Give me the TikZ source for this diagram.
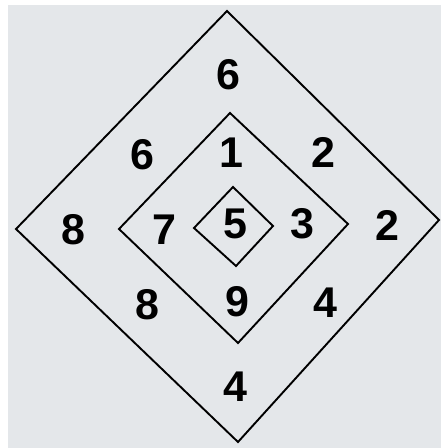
\documentclass[tikz,border=0pt]{standalone}
\usepackage{fontspec}
\setmainfont{Liberation Sans}
\usetikzlibrary{calc}
\definecolor{paper}{RGB}{228,231,234}
\tikzset{
  frame/.style={draw=black, line width=1.9pt, line join=miter},
  digit/.style={font=\fontsize{43}{43}\selectfont\bfseries, inner sep=0pt, anchor=center},
}

\begin{document}
\begin{tikzpicture}[x=1pt,y=-1pt]
\useasboundingbox (0,0) rectangle (441,448);
\fill[white] (0,0) rectangle (441,448);
\fill[paper] (8,5) rectangle (441,448);
% outer diamond
\coordinate (ot) at (227,11);
\coordinate (or) at (439,220);
\coordinate (ob) at (238,442);
\coordinate (ol) at (16,229);
\draw[frame] (ot) -- (or) -- (ob) -- (ol) -- cycle;
% middle diamond
\coordinate (mt) at (230,113);
\coordinate (mr) at (348,224);
\coordinate (mb) at (238,343);
\coordinate (ml) at (119,229);
\draw[frame] (mt) -- (mr) -- (mb) -- (ml) -- cycle;
% inner diamond
\coordinate (it) at (233,187);
\coordinate (ir) at (273,226);
\coordinate (ib) at (236,266);
\coordinate (il) at (194,228);
\draw[frame] (it) -- (ir) -- (ib) -- (il) -- cycle;
% digits
\node[digit] (otop) at (228,75) {6};
\node[digit] (oul) at (142,155) {6};
\node[digit] (mtop) at (231,153) {1};
\node[digit] (our) at (323,152) {2};
\node[digit] (oleft) at (73,230) {8};
\node[digit] (mleft) at (164,230) {7};
\node[digit] (ctr) at (235,224) {5};
\node[digit] (mright) at (302,224) {3};
\node[digit] (oright) at (387,225) {2};
\node[digit] (oll) at (147,305) {8};
\node[digit] (mbot) at (237,302) {9};
\node[digit] (olr) at (325,303) {4};
\node[digit] (obot) at (235,387) {4};
\end{tikzpicture}
\end{document}
